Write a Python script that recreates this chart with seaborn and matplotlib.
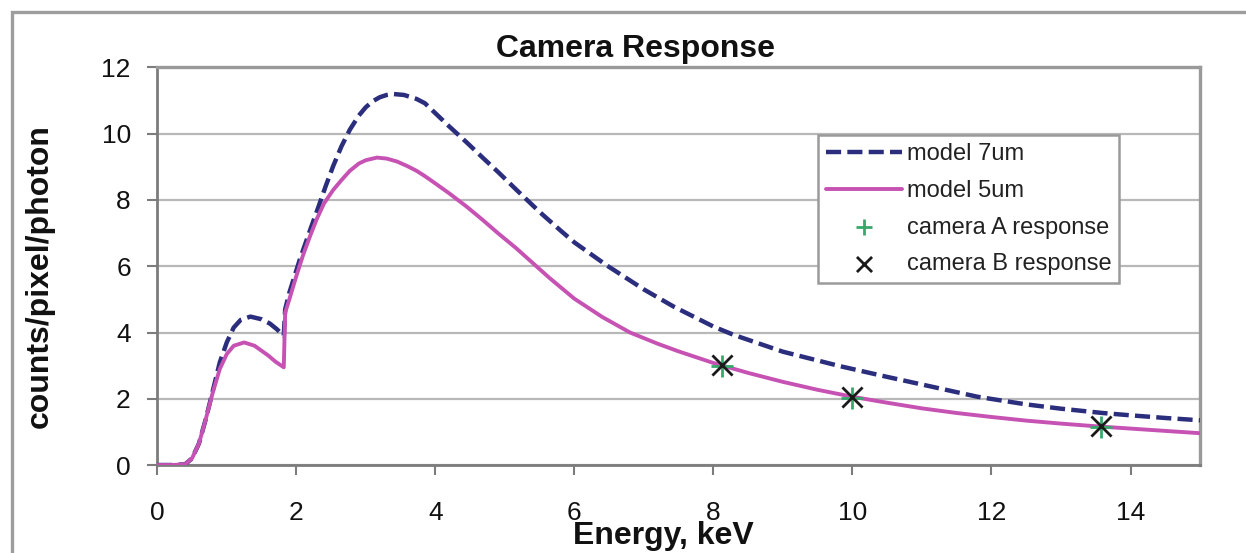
import matplotlib
matplotlib.use("Agg")
import matplotlib.pyplot as plt
import seaborn as sns
from matplotlib.patches import Rectangle

# Modelled camera response, 7 um depletion depth
energy_7um = [0.0, 0.2, 0.4, 0.5, 0.6, 0.7, 0.8, 0.9, 1.0, 1.1, 1.2, 1.34, 1.5, 1.62,
              1.72, 1.82, 1.84, 1.9, 2.05, 2.2, 2.3, 2.42, 2.53, 2.65, 2.77, 2.9, 3.0,
              3.1, 3.2, 3.3, 3.39, 3.55, 3.73, 3.85, 4.0, 4.2, 4.45, 4.68, 4.9, 5.16,
              5.51, 5.8, 6.0, 6.47, 7.0, 7.43, 8.0, 8.29, 9.0, 9.83, 10.5, 11.0, 11.8,
              12.5, 13.0, 13.6, 14.0, 14.5, 15.0]
counts_7um = [0.0, 0.0, 0.02, 0.2, 0.65, 1.4, 2.25, 3.1, 3.7, 4.15, 4.38, 4.48, 4.4, 4.27,
              4.1, 3.9, 4.7, 5.2, 6.2, 7.1, 7.68, 8.4, 9.02, 9.62, 10.12, 10.55, 10.8,
              10.98, 11.1, 11.17, 11.2, 11.17, 11.05, 10.92, 10.62, 10.22, 9.74, 9.28,
              8.85, 8.32, 7.62, 7.08, 6.72, 6.02, 5.3, 4.78, 4.18, 3.93, 3.42, 2.98,
              2.66, 2.43, 2.06, 1.83, 1.7, 1.57, 1.5, 1.42, 1.35]

# Modelled camera response, 5 um depletion depth
energy_5um = [0.0, 0.2, 0.4, 0.5, 0.6, 0.7, 0.8, 0.9, 1.0, 1.1, 1.25, 1.4, 1.5, 1.6, 1.7,
              1.82, 1.84, 1.9, 2.0, 2.1, 2.2, 2.3, 2.4, 2.53, 2.65, 2.77, 2.9, 3.0, 3.16,
              3.3, 3.45, 3.6, 3.73, 3.85, 4.0, 4.2, 4.45, 4.68, 4.9, 5.16, 5.4, 5.64,
              6.0, 6.4, 6.8, 7.2, 7.5, 8.0, 8.5, 9.0, 9.5, 10.0, 10.5, 11.0, 11.5, 12.0,
              12.5, 13.0, 13.5, 14.0, 14.5, 15.0]
counts_5um = [0.0, 0.0, 0.02, 0.2, 0.65, 1.4, 2.2, 2.9, 3.35, 3.6, 3.7, 3.6, 3.45, 3.3, 3.12,
              2.95, 4.6, 5.0, 5.7, 6.35, 6.92, 7.45, 7.9, 8.3, 8.6, 8.88, 9.1, 9.2, 9.28,
              9.25, 9.16, 9.02, 8.88, 8.72, 8.5, 8.2, 7.8, 7.4, 7.0, 6.55, 6.1, 5.65,
              5.02, 4.47, 4.0, 3.66, 3.43, 3.08, 2.78, 2.51, 2.27, 2.06, 1.88, 1.71,
              1.57, 1.45, 1.34, 1.25, 1.17, 1.1, 1.03, 0.96]

# Measured responses of the two cameras
camera_energy = [8.12, 10.0, 13.57]
camera_a = [2.98, 2.03, 1.15]
camera_b = [3.02, 2.06, 1.18]

x_ticks = [0, 2, 4, 6, 8, 10, 12, 14]
y_ticks = [0, 2, 4, 6, 8, 10, 12]

NAVY = "#2b2d7d"
MAGENTA = "#c652b3"
GREEN = "#35a96c"
AXIS_GREY = "#7c7c7c"
GRID_GREY = "#b8b8b8"

sns.set_theme(style="white")
plt.rcParams["font.family"] = ["Liberation Sans", "DejaVu Sans"]

fig = plt.figure(figsize=(12.46, 5.53), dpi=100)
ax = fig.add_axes([0.1262, 0.1591, 0.8369, 0.7189])

sns.lineplot(x=energy_7um, y=counts_7um, ax=ax, color=NAVY, linewidth=3.2,
             linestyle=(0, (3.4, 1.4)), label="model 7um", sort=False,
             estimator=None, zorder=3)
sns.lineplot(x=energy_5um, y=counts_5um, ax=ax, color=MAGENTA, linewidth=2.8,
             label="model 5um", sort=False, estimator=None, zorder=4)
sns.scatterplot(x=camera_energy, y=camera_a, ax=ax, marker="+", s=230, color=GREEN,
                linewidth=2.0, label="camera A response", zorder=5)
sns.scatterplot(x=camera_energy, y=camera_b, ax=ax, marker="x", s=210, color="#1a1a1a",
                linewidth=2.0, label="camera B response", zorder=6)

ax.set_xlim(0, 15)
ax.set_ylim(0, 12)
ax.set_xticks(x_ticks)
ax.set_yticks(y_ticks)
ax.set_xticklabels([str(v) for v in x_ticks])
ax.set_yticklabels([str(v) for v in y_ticks])

ax.set_axisbelow(True)
ax.yaxis.grid(True, color=GRID_GREY, linewidth=1.6)
ax.xaxis.grid(False)

for side in ("left", "bottom"):
    ax.spines[side].set_color(AXIS_GREY)
    ax.spines[side].set_linewidth(2.0)
for side in ("top", "right"):
    ax.spines[side].set_color("#9a9a9a")
    ax.spines[side].set_linewidth(2.4)

ax.tick_params(axis="x", bottom=True, direction="out", length=7, width=1.5,
               color=AXIS_GREY, pad=19, labelsize=19, labelcolor="#111111")
ax.tick_params(axis="y", left=True, direction="out", length=7, width=1.5,
               color=AXIS_GREY, pad=12, labelsize=19, labelcolor="#111111")

ax.set_title("Camera Response", fontsize=23, fontweight="bold", x=0.459, pad=7.5,
             color="#111111")
ax.set_xlabel("Energy, keV", fontsize=23, fontweight="bold", color="#111111")
ax.set_ylabel("counts/pixel/photon", fontsize=23, fontweight="bold", color="#111111")
ax.xaxis.set_label_coords(0.4855, -0.142)
ax.yaxis.set_label_coords(-0.098, 0.475)

leg = ax.legend(loc="upper left", bbox_to_anchor=(818 / 1246, 1 - 135 / 553),
                bbox_transform=fig.transFigure, borderaxespad=0, fontsize=17,
                frameon=True, fancybox=False, edgecolor="#9a9a9a", framealpha=1,
                handlelength=3.2, handletextpad=0.2, labelspacing=0.62,
                borderpad=0.35, markerscale=0.75)
leg.get_frame().set_linewidth(1.8)
for txt in leg.get_texts():
    txt.set_color("#222222")

# Chart-area border
fig.patches.append(Rectangle((12 / 1246, -0.2), 1.5, 1.2 - 12 / 553,
                             transform=fig.transFigure, fill=False,
                             edgecolor="#9d9d9d", linewidth=2.4))

fig.savefig("out.png", dpi=100)
